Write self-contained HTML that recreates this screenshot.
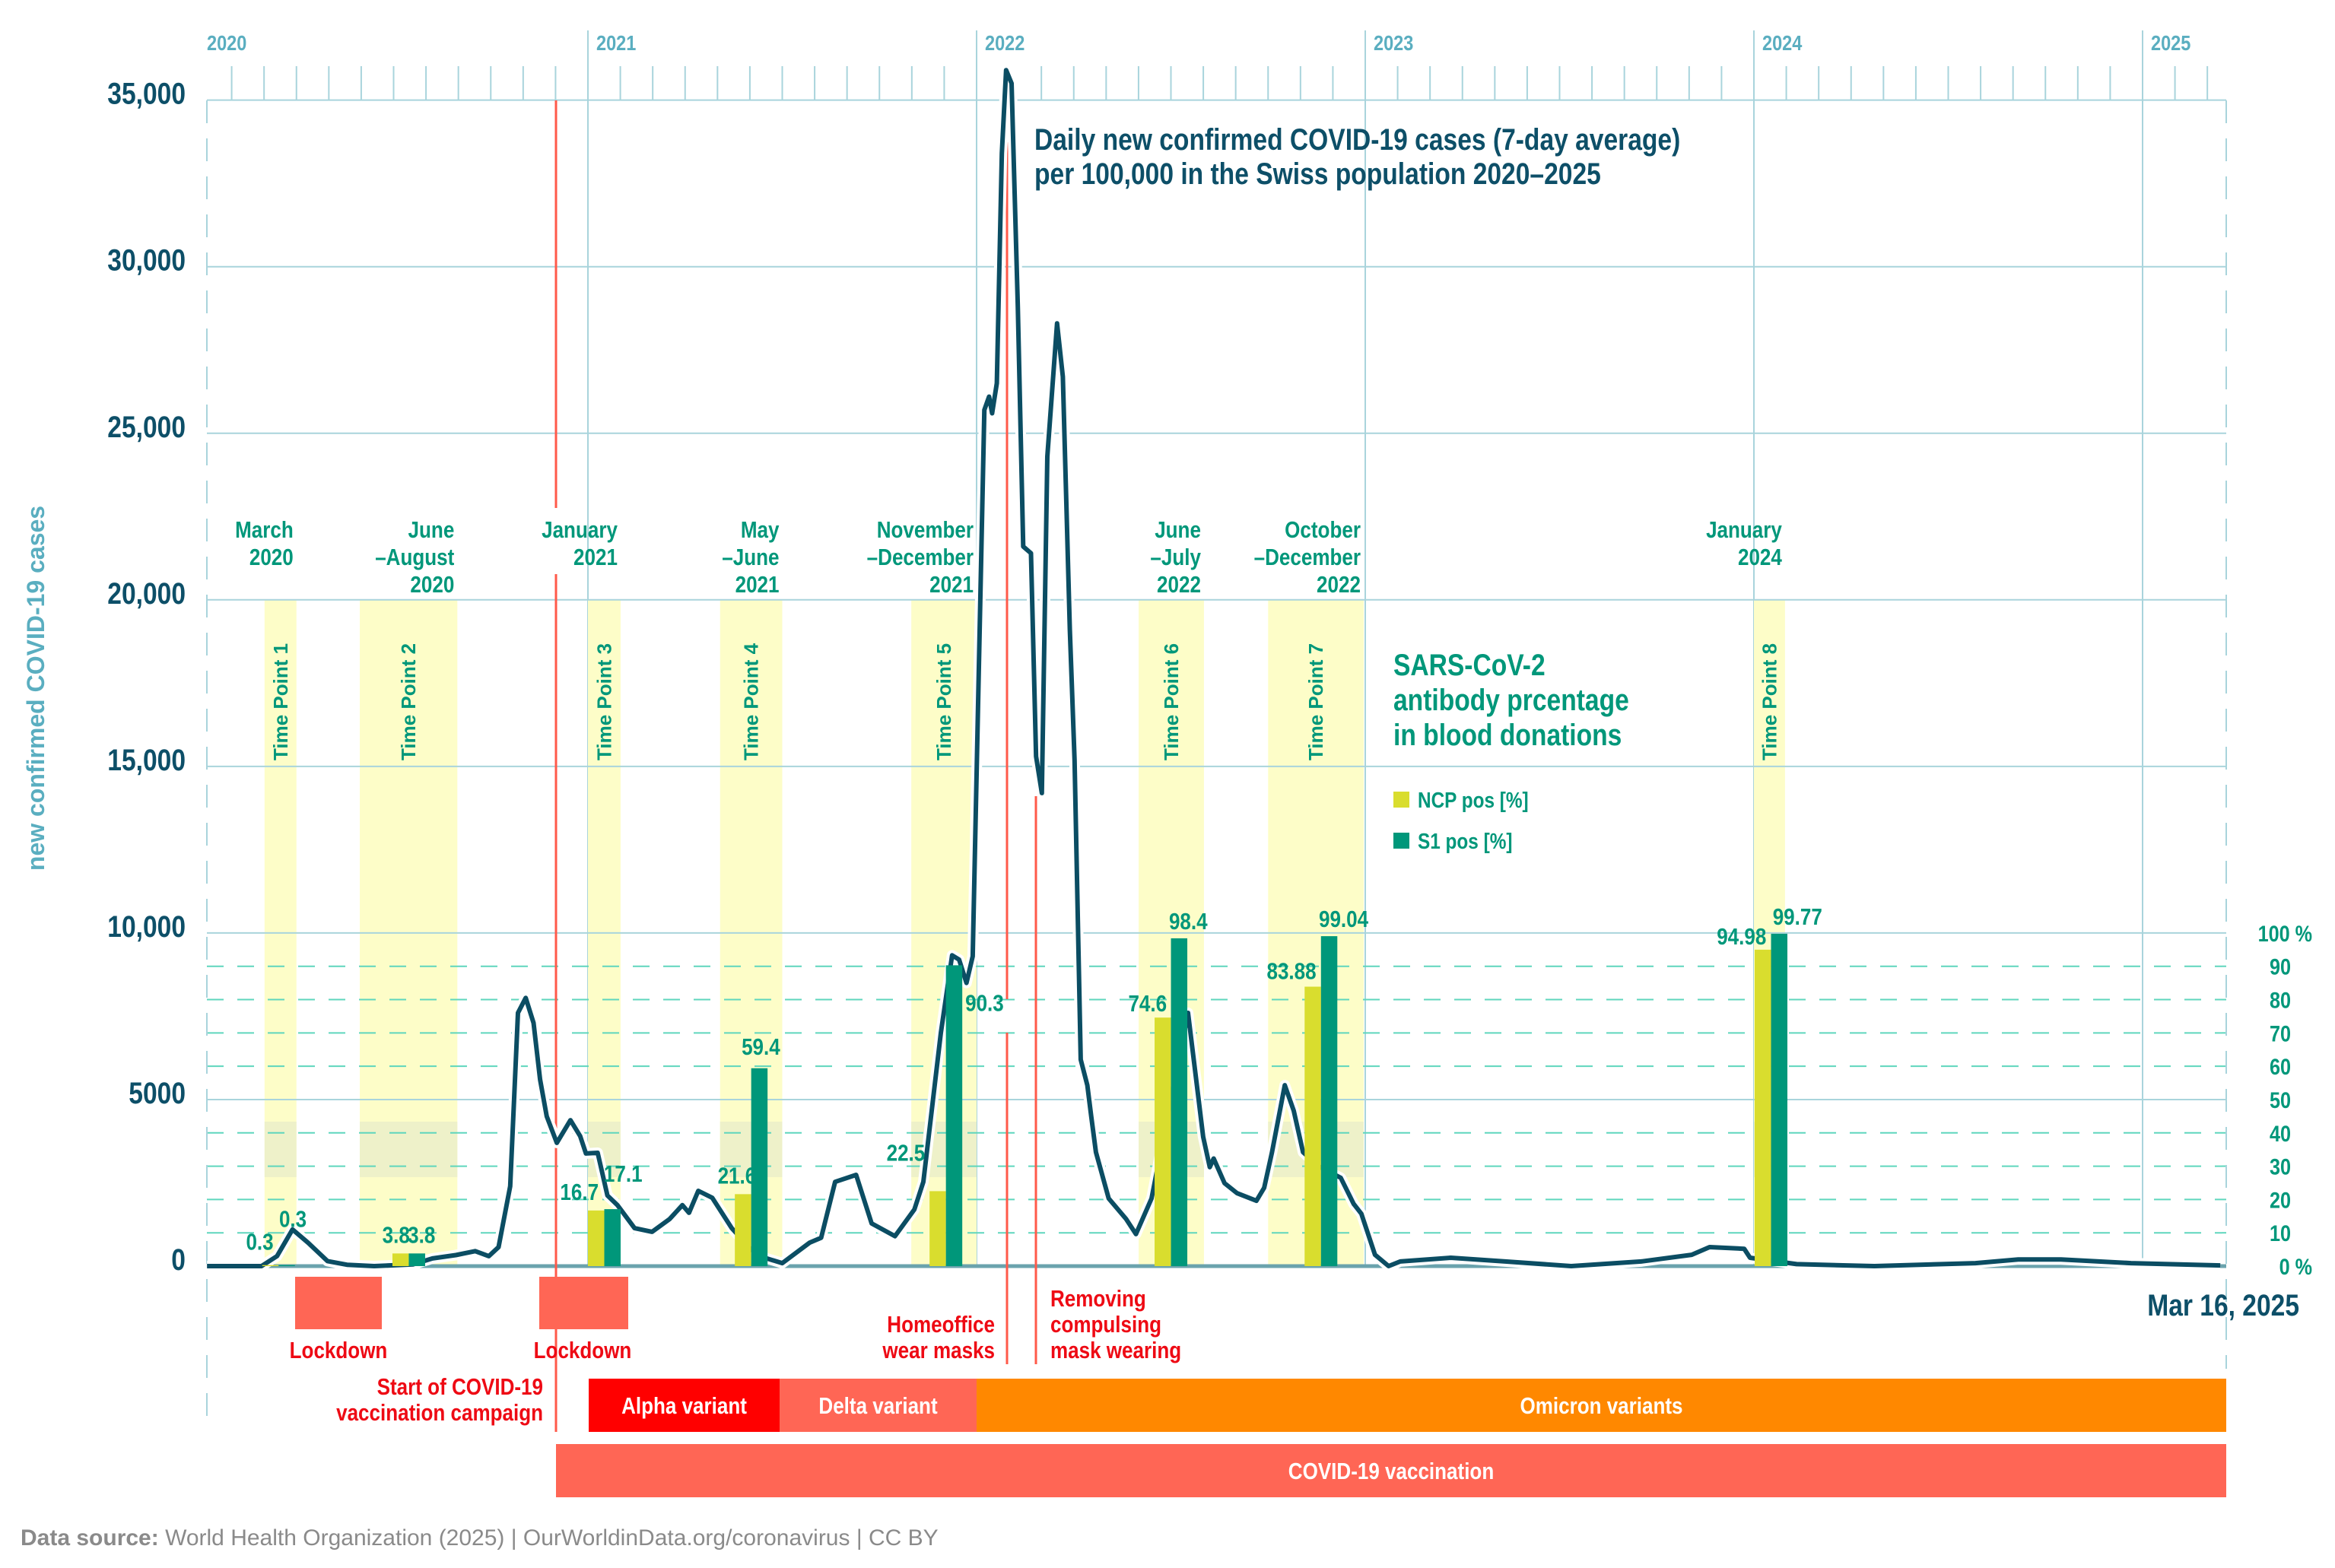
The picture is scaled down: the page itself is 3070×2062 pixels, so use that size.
<!DOCTYPE html>
<html><head><meta charset="utf-8">
<style>
html,body{margin:0;padding:0;background:#fff;}
svg{display:block;}
text{font-family:"Liberation Sans Narrow","Liberation Sans",sans-serif;font-weight:bold;}
.w{font-family:"Liberation Sans",sans-serif;}
</style></head>
<body>
<svg id="chart" width="3070" height="2062" viewBox="0 0 3070 2062" xmlns="http://www.w3.org/2000/svg"></svg>
<script>
// ---- data ----
const caseTimes = [0.02,0.16,0.20,0.24,0.28,0.33,0.38,0.45,0.55,0.60,0.66,0.71,0.745,0.77,0.80,0.82,0.84,0.86,0.877,0.894,0.92,0.955,0.98,0.995,1.025,1.05,1.076,1.12,1.165,1.21,1.243,1.26,1.284,1.32,1.37,1.42,1.46,1.50,1.57,1.60,1.636,1.69,1.73,1.79,1.84,1.863,1.908,1.937,1.955,1.974,1.99,2.02,2.032,2.040,2.052,2.065,2.076,2.09,2.106,2.12,2.14,2.153,2.168,2.182,2.207,2.222,2.24,2.252,2.268,2.285,2.295,2.307,2.34,2.385,2.41,2.45,2.50,2.544,2.583,2.60,2.61,2.638,2.67,2.72,2.74,2.76,2.793,2.816,2.84,2.88,2.937,2.97,2.99,3.025,3.06,3.09,3.22,3.36,3.53,3.71,3.84,3.886,3.975,3.99,4.11,4.31,4.57,4.68,4.79,4.97,5.2];
const caseValues = [0,0,300,1100,700,150,40,0,50,230,330,450,300,570,2400,7600,8050,7300,5600,4500,3700,4380,3900,3380,3400,2120,1830,1140,1030,1410,1830,1600,2260,2050,1140,500,230,90,700,850,2530,2740,1280,900,1700,2530,7000,9330,9200,8500,9300,25700,26100,25600,26500,33400,35900,35500,28800,21600,21400,15300,14200,24300,28300,26700,19100,15200,6200,5430,4500,3420,2030,1410,960,2030,5000,7600,3880,2970,3230,2490,2190,1960,2350,3420,5430,4660,3420,3000,2650,1870,1570,340,0,140,250,140,0,140,340,570,520,250,60,0,90,200,200,90,20];
const tpNames = ["Time Point 1","Time Point 2","Time Point 3","Time Point 4","Time Point 5","Time Point 6","Time Point 7","Time Point 8"];
const tpPeriods = [["March","2020"],["June","–August","2020"],["January","2021"],["May","–June","2021"],["November","–December","2021"],["June","–July","2022"],["October","–December","2022"],["January","2024"]];
const tpStart = [0.168,0.413,1.00,1.34,1.832,2.417,2.750,4.00];
const tpEnd   = [0.250,0.664,1.084,1.50,2.00,2.585,2.996,4.08];
const ncpValues = [0.3,3.8,16.7,21.6,22.5,74.6,83.88,94.98];
const s1Values  = [0.3,3.8,17.1,59.4,90.3,98.4,99.04,99.77];
const ncpLabels = ["0.3","3.8","16.7","21.6","22.5","74.6","83.88","94.98"];
const s1Labels  = ["0.3","3.8","17.1","59.4","90.3","98.4","99.04","99.77"];
const barStart = [0.162,0.497,1.00,1.378,1.879,2.458,2.844,4.002];
const yTicks = [0,5000,10000,15000,20000,25000,30000,35000];
const yTickLabels = ["0","5000","10,000","15,000","20,000","25,000","30,000","35,000"];
const pctTicks = [0,10,20,30,40,50,60,70,80,90,100];
const pctLabels = ["0 %","10","20","30","40","50","60","70","80","90","100 %"];
const years = ["2020","2021","2022","2023","2024","2025"];

// ---- scales ----
const X0=262, YW=511, PL=272, PR=2927;
const x = t => X0 + t*YW;
const y = v => 1665 - v*0.04381;
const yp = pct => y(pct*100);   // percent 0..100 mapped onto 0..10,000 cases

const svg=document.getElementById('chart');
const NS="http://www.w3.org/2000/svg";
const SX=0.84;
function mk(tag,attrs,parent){const e=document.createElementNS(NS,tag);for(const k in attrs)e.setAttribute(k,attrs[k]);(parent||svg).appendChild(e);return e;}
function txt(s,attrs,parent){
  const a=Object.assign({},attrs);
  if(!a.transform && a['class']!=='w'){
    a.transform=`translate(${a.x},${a.y}) scale(${SX},1)`; a.x=0; a.y=0;
  }
  const e=mk('text',a,parent);e.textContent=s;return e;}

// top ticks / year lines
for(let yi=0;yi<6;yi++){
  for(let m=0;m<12;m++){
    const xx=x(yi+m/12);
    if(xx<PL||xx>PR)continue;
    const l=mk('line',{x1:xx,x2:xx,y1:m===0?40:87,y2:m===0?1665:132,stroke:'#a9d4dc','stroke-width':2});
    
    
  }
  const t=txt(years[yi],{x:(yi===0?PL:x(yi)+11),y:66,fill:'#5aaec0','font-size':28});
  
  
}

// time point bands
for(let i=0;i<8;i++){
  const x1=x(tpStart[i]),x2=x(tpEnd[i]);
  const b=mk('rect',{x:x1,y:y(20000),width:x2-x1,height:y(0)-y(20000),fill:'#fdfdc8'});
  
  
  const d=mk('rect',{x:x1,y:1475,width:x2-x1,height:73,fill:'#eef1c9'});
  
  
  const p=tpPeriods[i];
  p.forEach((s,j)=>{const t=txt(s,{x:x2-4,y:707+j*36,'text-anchor':'end',fill:'#00977a','font-size':31});
    
    });
  const cx=(x1+x2)/2;
  const v=txt(tpNames[i],{x:0,y:0,transform:`translate(${cx+9},1000) rotate(-90)`,fill:'#00977a','font-size':26,'class':'w'});
  
  
}

// grid lines
pctTicks.forEach((p,i)=>{
  if(p%50!==0){const l=mk('line',{x1:PL,x2:PR,y1:yp(p),y2:yp(p),stroke:'#5fd6bd','stroke-width':2,'stroke-dasharray':'22 18'});
    
    }
  const t=txt(pctLabels[i],{x:(p===100||p===0)?3040:3012,y:yp(p)+11,'text-anchor':'end',fill:'#00977a','font-size':30});
  
  
});
yTicks.forEach((v,i)=>{
  const l=mk('line',{x1:PL,x2:PR,y1:y(v),y2:y(v),stroke:v===0?'#6aa3ad':'#a9d4dc','stroke-width':v===0?5:2});
  
  
  const t=txt(yTickLabels[i],{x:244,y:y(v)+5,'text-anchor':'end',fill:'#0d4f68','font-size':40});
  
  
});
let a=mk('line',{x1:PL,x2:PL,y1:132,y2:1878,stroke:'#a9d4dc','stroke-width':2,'stroke-dasharray':'30 20'});

a=mk('line',{x1:PR,x2:PR,y1:132,y2:1800,stroke:'#a9d4dc','stroke-width':2,'stroke-dasharray':'30 20'});


// red event lines
[[731,132,668],[731,755,1883],[1324,187,1314],[1324,1358,1794],[1362,1047,1794]].forEach(s=>{
  const l=mk('line',{x1:s[0],x2:s[0],y1:s[1],y2:s[2],stroke:'#ff5a4a','stroke-width':3});
  
  
});

// curve
let dstr='';
caseTimes.forEach((t,i)=>{dstr+=(i?'L':'M')+x(t).toFixed(1)+','+y(caseValues[i]).toFixed(1);});
let c=mk('path',{d:dstr,fill:'none',stroke:'#fff','stroke-width':14,'stroke-linejoin':'round'});

c=mk('path',{d:dstr,fill:'none',stroke:'#0b4d63','stroke-width':6,'stroke-linejoin':'round'});


// bars
const BW=21.5;
const ncpDx=[-14,-6,-22,-8,-42,-20,-28,-28], ncpDy=[-20,-14,-14,-14,-40,-8,-10,-7];
const s1Dx=[8,6,14,2,40,12,19,24], s1Dy=[-50,-14,-36,-18,60,-12,-12,-12];
for(let i=0;i<8;i++){
  const bx=x(barStart[i]);
  const b1=mk('rect',{x:bx,y:yp(ncpValues[i]),width:BW,height:y(0)-yp(ncpValues[i]),fill:'#d9dd2e'});
  
  const b2=mk('rect',{x:bx+BW,y:yp(s1Values[i]),width:BW,height:y(0)-yp(s1Values[i]),fill:'#00977a'});
  
  const l1=txt(ncpLabels[i],{x:bx+BW/2+ncpDx[i],y:yp(ncpValues[i])+ncpDy[i],'text-anchor':'middle',fill:'#00977a','font-size':31});
  
  const l2=txt(s1Labels[i],{x:bx+BW*1.5+s1Dx[i],y:yp(s1Values[i])+s1Dy[i],'text-anchor':'middle',fill:'#00977a','font-size':31});
  
}

// bottom boxes
function box(name,x1,x2,y1,y2,fill,label,fs){
  const r=mk('rect',{x:x1,y:y1,width:x2-x1,height:y2-y1,fill:fill});
  
  if(label){const t=txt(label,{x:(x1+x2)/2,y:(y1+y2)/2+11,'text-anchor':'middle',fill:'#fff','font-size':31});
    }
}
box('lockdown-1',388,502,1679,1748,'#ff6655');
box('lockdown-2',709,826,1679,1748,'#ff6655');
box('alpha-variant',774,1025,1813,1883,'#ff0000','Alpha variant');
box('delta-variant',1025,1284,1813,1883,'#ff6655','Delta variant');
box('omicron-variants',1284,2927,1813,1883,'#ff8800','Omicron variants');
box('covid-vaccination',731,2927,1899,1969,'#ff6655','COVID-19 vaccination');

function red(lines,xx,y0,anchor,name){lines.forEach((s,j)=>{const t=txt(s,{x:xx,y:y0+j*34,'text-anchor':anchor,fill:'#ee0a14','font-size':31});
  });}
red(['Lockdown'],445,1786,'middle','lockdown-label');
red(['Lockdown'],766,1786,'middle','lockdown-label');
red(['Start of COVID-19','vaccination campaign'],714,1834,'end','vaccination-start-label');
red(['Homeoffice','wear masks'],1308,1752,'end','homeoffice-label');
red(['Removing','compulsing','mask wearing'],1381,1718,'start','mask-removal-label');

// titles & legend
let t=txt('Daily new confirmed COVID-19 cases (7-day average)',{x:1360,y:197,fill:'#0d4f68','font-size':40});

t=txt('per 100,000 in the Swiss population 2020–2025',{x:1360,y:242,fill:'#0d4f68','font-size':40});

['SARS-CoV-2','antibody prcentage','in blood donations'].forEach((s,j)=>{const e=txt(s,{x:1832,y:888+j*46,fill:'#00977a','font-size':40});
  });
let r=mk('rect',{x:1832,y:1041,width:21,height:21,fill:'#d9dd2e'});
t=txt('NCP pos [%]',{x:1864,y:1062,fill:'#00977a','font-size':29});
r=mk('rect',{x:1832,y:1095,width:21,height:21,fill:'#00977a'});
t=txt('S1 pos [%]',{x:1864,y:1116,fill:'#00977a','font-size':29});

t=txt('new confirmed COVID-19 cases',{x:0,y:0,transform:'translate(58,905) rotate(-90)','text-anchor':'middle',fill:'#5aaec0','font-size':32,'class':'w'});

t=txt('Mar 16, 2025',{x:3023,y:1730,'text-anchor':'end',fill:'#0d4f68','font-size':40});

t=mk('text',{x:27,y:2032,fill:'#8a8a8a','font-size':30,style:'font-weight:normal','class':'w'});
t.innerHTML='<tspan font-weight="bold">Data source:</tspan> World Health Organization (2025) | OurWorldinData.org/coronavirus | CC BY';

</script>
</body></html>
